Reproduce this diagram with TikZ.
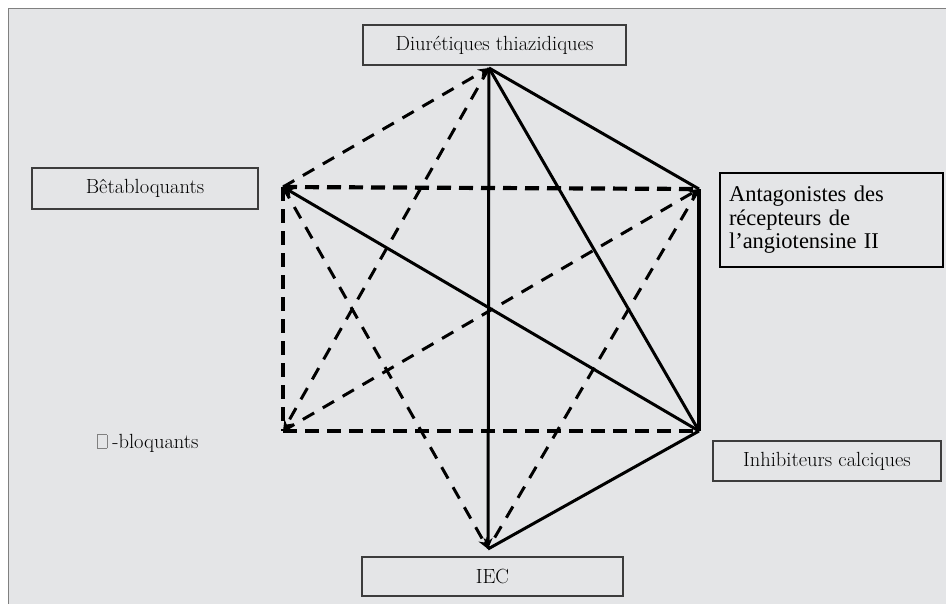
\documentclass[tikz,border=0pt]{standalone}
\usepackage{fontspec}
\newfontfamily\timesf{Liberation Serif}
\usetikzlibrary{arrows.meta}
\definecolor{bgray}{RGB}{228,229,231}
\definecolor{bordergray}{RGB}{60,60,60}
\begin{document}
\begin{tikzpicture}[x=1pt,y=-1pt,
  lbl/.style={draw=bordergray,line width=1.3pt,fill=bgray,inner sep=0pt,font=\fontsize{20.5}{24}\selectfont},
  side/.style={line width=4.2pt,dash pattern=on 14pt off 8pt},
  diagd/.style={line width=3pt,dash pattern=on 13pt off 10pt},
  diags/.style={line width=3pt},
  sides/.style={line width=4.2pt},
  tip/.style={-{Stealth[length=11pt,width=9pt]}}]
\useasboundingbox (0,0) rectangle (946,603);
\draw[gray,line width=1pt,fill=bgray] (8,8) rectangle (948,605);

% boxes
\node[lbl,minimum width=263pt,minimum height=40pt] (diu) at (494.5,45) {Diurétiques thiazidiques};
\node[lbl,minimum width=226pt,minimum height=41pt] (beta) at (145,188.5) {Bêtabloquants};
\node[lbl,draw=black,line width=1.6pt,minimum width=223pt,minimum height=94pt,text width=205pt,align=left,font=\timesf\fontsize{22.5}{23.5}\selectfont] (ara) at (831.5,220) {Antagonistes des\\récepteurs de\\l’angiotensine II};
\node[lbl,minimum width=228pt,minimum height=40pt] (ic) at (827,461) {Inhibiteurs calciques};
\node[lbl,minimum width=261pt,minimum height=39pt] (iec) at (492.5,576.5) {IEC};
\node[inner sep=0pt,font=\fontsize{20.5}{24}\selectfont,anchor=base west] (alpha) at (97,448) {\textcolor{gray}{\fboxrule=0.6pt\fboxsep=0pt\fbox{\rule{0pt}{13pt}\hspace{9pt}}}\hspace{5pt}-bloquants};

% vertices
\coordinate (T) at (489,68);
\coordinate (BL) at (283,187);
\coordinate (AR) at (699,189);
\coordinate (AL) at (283,431);
\coordinate (IC) at (699,431);
\coordinate (B) at (488,549);

% solid connectors
\draw[diags,tip] (T) -- (B);
\draw[diags] (T) -- (IC);
\draw[diags] (T) -- (AR);
\draw[diags,tip] (IC) -- (BL);
\draw[diags] (IC) -- (B);
\draw[sides] (AR) -- (IC);

% dashed connectors
\draw[side] (BL) -- (AR);
\draw[side] (BL) -- (AL);
\draw[side] (AL) -- (IC);
\draw[diagd,tip] (BL) -- (T);
\draw[diagd,tip] (T) -- (AL);
\draw[diagd,tip] (BL) -- (B);
\draw[diagd,tip] (AL) -- (AR);
\draw[diagd] (AR) -- (B);
\end{tikzpicture}
\end{document}
